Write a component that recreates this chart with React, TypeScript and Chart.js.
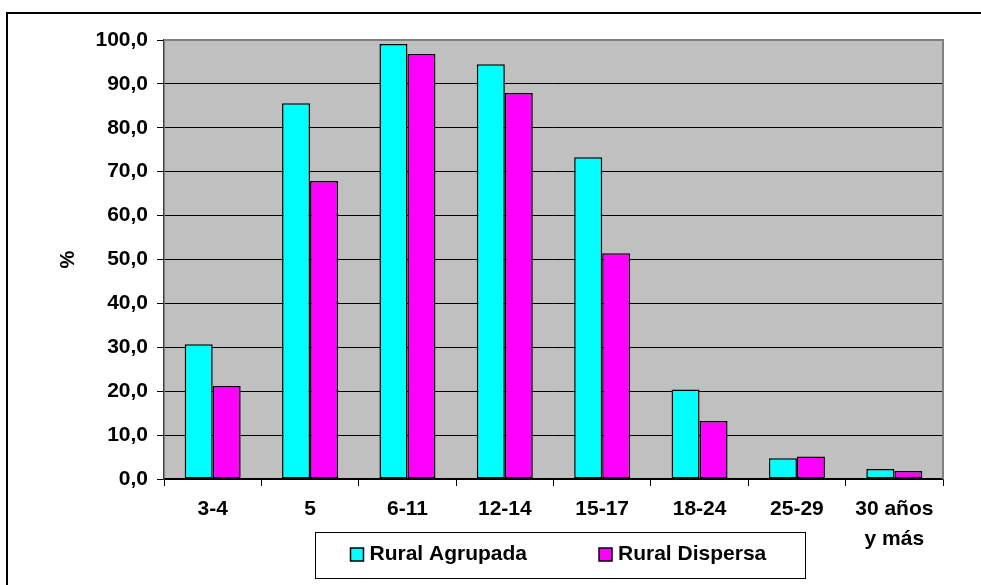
import React, { useEffect, useRef } from "react";
import { Chart, registerables } from "chart.js";

Chart.register(...registerables);

const categories: (string | string[])[] = ["3-4", "5", "6-11", "12-14", "15-17", "18-24", "25-29", ["30 años", "y más"]];
const ruralAgrupada = [30.7, 85.6, 99.1, 94.5, 73.3, 20.4, 4.7, 2.3];
const ruralDispersa = [21.2, 67.9, 96.8, 87.9, 51.4, 13.2, 5.1, 1.8];
const seriesLabels = ["Rural Agrupada", "Rural Dispersa"];
const seriesColors = ["#00FFFF", "#FF00FF"];
const yTitle = "%";

const FONT = "'Liberation Sans', Arial, sans-serif";

const decorPlugin = {
  id: "decor",
  beforeDraw(chart: any) {
    const { ctx, chartArea, width, height } = chart;
    ctx.save();
    ctx.fillStyle = "#ffffff";
    ctx.fillRect(0, 0, width, height);
    // outer frame
    ctx.strokeStyle = "#000";
    ctx.lineWidth = 2;
    ctx.beginPath();
    ctx.moveTo(7, height + 5);
    ctx.lineTo(7, 13);
    ctx.lineTo(width + 5, 13);
    ctx.stroke();
    // plot background
    ctx.fillStyle = "#C0C0C0";
    ctx.fillRect(chartArea.left, chartArea.top, chartArea.right - chartArea.left, chartArea.bottom - chartArea.top);
    ctx.restore();
  },
  afterDatasetsDraw(chart: any) {
    const { ctx, chartArea } = chart;
    ctx.save();
    ctx.strokeStyle = "#808080";
    ctx.lineWidth = 2;
    ctx.beginPath();
    ctx.moveTo(chartArea.left, chartArea.top);
    ctx.lineTo(chartArea.right, chartArea.top);
    ctx.lineTo(chartArea.right, chartArea.bottom);
    ctx.stroke();
    ctx.restore();
  },
  afterDraw(chart: any) {
    const { ctx } = chart;
    ctx.save();
    const bx = 315.5, by = 532.5, bw = 490, bh = 46;
    ctx.fillStyle = "#fff";
    ctx.fillRect(bx, by, bw, bh);
    ctx.strokeStyle = "#000";
    ctx.lineWidth = 1;
    ctx.strokeRect(bx, by, bw, bh);
    ctx.font = `bold 21px ${FONT}`;
    ctx.textBaseline = "middle";
    ctx.textAlign = "left";
    let x = bx + 35;
    const cy = by + 22;
    chart.data.datasets.forEach((ds: any) => {
      ctx.fillStyle = ds.backgroundColor;
      ctx.fillRect(x, cy - 6.5, 13, 13);
      ctx.strokeStyle = "#000";
      ctx.lineWidth = 1.5;
      ctx.strokeRect(x, cy - 6.5, 13, 13);
      ctx.fillStyle = "#000";
      ctx.fillText(ds.label, x + 19, cy);
      x += 19 + ctx.measureText(ds.label).width + 72;
    });
    ctx.restore();
  },
};

export default function App() {
  const ref = useRef<HTMLCanvasElement>(null);
  useEffect(() => {
    if (!ref.current) return;
    const chart = new Chart(ref.current, {
      type: "bar",
      data: {
        labels: categories as any,
        datasets: [
          {
            label: seriesLabels[0],
            data: ruralAgrupada,
            backgroundColor: seriesColors[0],
            borderColor: "#000",
            borderWidth: 1.5,
            borderSkipped: false,
            categoryPercentage: 0.575,
            barPercentage: 1,
          },
          {
            label: seriesLabels[1],
            data: ruralDispersa,
            backgroundColor: seriesColors[1],
            borderColor: "#000",
            borderWidth: 1.5,
            borderSkipped: false,
            categoryPercentage: 0.575,
            barPercentage: 1,
          },
        ],
      },
      options: {
        responsive: false,
        animation: false,
        devicePixelRatio: 1,
        layout: { padding: { left: 56, right: 38, top: 40, bottom: 26 } },
        plugins: { legend: { display: false }, tooltip: { enabled: false } },
        scales: {
          x: {
            clip: false,
            grid: { display: true, drawOnChartArea: false, drawTicks: true, tickLength: 7, color: "#000", lineWidth: 1 },
            border: { display: true, color: "#000", width: 1.5 },
            ticks: { color: "#000", padding: 8, maxRotation: 0, autoSkip: false, font: { family: FONT, size: 21, weight: "bold", lineHeight: 1.45 } },
            afterFit: (s: any) => { s.height = 80; },
          },
          y: {
            min: 0,
            max: 100,
            grid: { color: "#000", lineWidth: 1, tickLength: 7, drawTicks: true },
            border: { display: true, color: "#404040", width: 1.5 },
            ticks: {
              stepSize: 10,
              color: "#000",
              padding: 9,
              font: { family: FONT, size: 21, weight: "bold" },
              callback: (v: any) => Number(v).toFixed(1).replace(".", ","),
            },
            title: { display: true, text: yTitle, color: "#000", padding: { top: 0, bottom: 0 }, font: { family: FONT, size: 20, weight: "bold" } },
            afterFit: (s: any) => { s.width = 108; },
          },
        },
      },
      plugins: [decorPlugin],
    } as any);
    return () => chart.destroy();
  }, []);
  return (
    <div style={{ position: "fixed", left: 0, top: 0, width: 981, height: 585 }}>
      <canvas ref={ref} width={981} height={585} style={{ display: "block", width: 981, height: 585 }} />
    </div>
  );
}
